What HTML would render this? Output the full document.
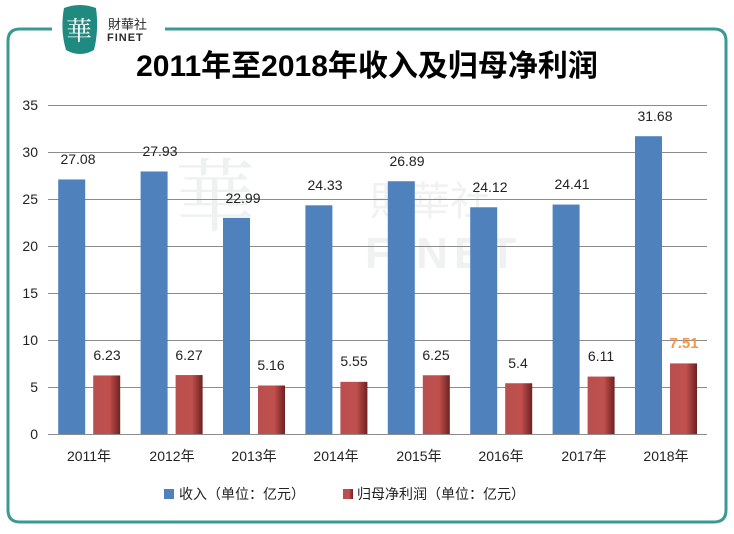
<!DOCTYPE html>
<html><head><meta charset="utf-8"><style>
body{margin:0;width:734px;height:529px;background:#fff;overflow:hidden;font-family:"Liberation Sans","Noto Sans CJK SC",sans-serif;}
</style></head><body>
<svg width="734" height="529" viewBox="0 0 734 529" xmlns="http://www.w3.org/2000/svg">
<defs>
<linearGradient id="rg" x1="0" x2="1" y1="0" y2="0">
<stop offset="0" stop-color="#b94f4f"/><stop offset="0.6" stop-color="#c0504d"/><stop offset="1" stop-color="#6e2121"/>
</linearGradient>
</defs>
<path d="M52 29 H20 Q8 29 8 41 V510 Q8 522 20 522 H714 Q726 522 726 510 V41 Q726 29 714 29 H165" fill="none" stroke="#3a9a92" stroke-width="3"/>
<path d="M64 8 Q80 2 96 8 Q99 30 94 50 Q80 58 66 50 Q60 30 64 8Z" fill="#1f8a80"/>
<text x="79" y="40" font-size="26" fill="#fff" text-anchor="middle" font-family="'Noto Serif CJK SC',serif">華</text>
<text x="108" y="29" font-size="13" fill="#2a2a2a" font-family="'Noto Sans CJK TC',sans-serif">財華社</text>
<text x="107" y="41" font-size="11" fill="#2a2a2a" font-weight="bold" letter-spacing="1">FINET</text>
<text x="215" y="225" font-size="80" fill="#edf2f1" text-anchor="middle" font-family="'Noto Serif CJK SC',serif">華</text>
<text x="370" y="215" font-size="40" fill="#f0f1f1" font-family="'Noto Sans CJK TC',sans-serif">財華社</text>
<text x="365" y="268" font-size="44" fill="#f0f1f1" font-weight="bold" letter-spacing="6">FINET</text>
<text x="367" y="76" font-size="30" font-weight="bold" fill="#000" text-anchor="middle">2011年至2018年收入及归母净利润</text>
<g stroke="#8c8c8c" stroke-width="1">
<line x1="48" x2="707" y1="105.5" y2="105.5"/><line x1="48" x2="707" y1="152.5" y2="152.5"/>
<line x1="48" x2="707" y1="199.5" y2="199.5"/><line x1="48" x2="707" y1="246.5" y2="246.5"/>
<line x1="48" x2="707" y1="293.5" y2="293.5"/><line x1="48" x2="707" y1="340.5" y2="340.5"/>
<line x1="48" x2="707" y1="387.5" y2="387.5"/><line x1="48" x2="707" y1="434.5" y2="434.5"/>
</g>
<g font-size="14" fill="#222" text-anchor="end">
<text x="38" y="110">35</text><text x="38" y="157">30</text><text x="38" y="204">25</text><text x="38" y="251">20</text>
<text x="38" y="298">15</text><text x="38" y="345">10</text><text x="38" y="392">5</text><text x="38" y="439">0</text>
</g>
<g fill="#4f81bd">
<rect x="58.2" y="179.45" width="27" height="254.55"/>
<rect x="140.6" y="171.46" width="27" height="262.54"/>
<rect x="223" y="217.89" width="27" height="216.11"/>
<rect x="305.4" y="205.3" width="27" height="228.7"/>
<rect x="387.8" y="181.23" width="27" height="252.77"/>
<rect x="470.2" y="207.27" width="27" height="226.73"/>
<rect x="552.6" y="204.55" width="27" height="229.45"/>
<rect x="635" y="136.21" width="27" height="297.79"/>
</g>
<g fill="url(#rg)">
<rect x="93.2" y="375.44" width="27" height="58.56"/>
<rect x="175.6" y="375.06" width="27" height="58.94"/>
<rect x="258" y="385.5" width="27" height="48.5"/>
<rect x="340.4" y="381.83" width="27" height="52.17"/>
<rect x="422.8" y="375.25" width="27" height="58.75"/>
<rect x="505.2" y="383.24" width="27" height="50.76"/>
<rect x="587.6" y="376.57" width="27" height="57.43"/>
<rect x="670" y="363.41" width="27" height="70.59"/>
</g>
<g font-size="14" fill="#222" text-anchor="middle">
<text x="78" y="164">27.08</text>
<text x="160" y="156">27.93</text>
<text x="243" y="203">22.99</text>
<text x="325" y="190">24.33</text>
<text x="407" y="166">26.89</text>
<text x="490" y="192">24.12</text>
<text x="572" y="189">24.41</text>
<text x="655" y="121">31.68</text>
<text x="107" y="360">6.23</text>
<text x="189" y="360">6.27</text>
<text x="271" y="370">5.16</text>
<text x="354" y="366">5.55</text>
<text x="436" y="360">6.25</text>
<text x="518" y="368">5.4</text>
<text x="601" y="361">6.11</text>
<text x="684" y="348" fill="#f79646" font-weight="bold" font-size="15">7.51</text>
<text x="89" y="461">2011年</text>
<text x="172" y="461">2012年</text>
<text x="254" y="461">2013年</text>
<text x="336" y="461">2014年</text>
<text x="419" y="461">2015年</text>
<text x="501" y="461">2016年</text>
<text x="584" y="461">2017年</text>
<text x="666" y="461">2018年</text>
</g>
<rect x="164" y="489" width="10" height="10" fill="#4f81bd"/>
<text x="179" y="499" font-size="14" fill="#222">收入（单位：亿元）</text>
<rect x="343" y="489" width="10" height="10" fill="url(#rg)"/>
<text x="357" y="499" font-size="14" fill="#222">归母净利润（单位：亿元）</text>
</svg>
</body></html>
